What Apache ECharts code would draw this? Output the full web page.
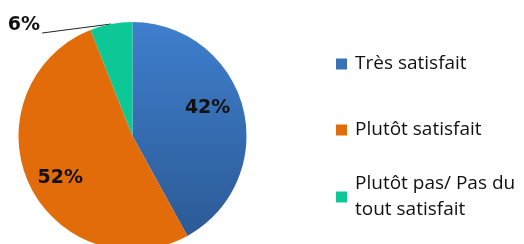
<!DOCTYPE html>
<html>
<head>
<meta charset="utf-8">
<script src="https://cdn.jsdelivr.net/npm/echarts@6/dist/echarts.min.js"></script>
<style>
html, body { margin: 0; padding: 0; background: #fff; }
#chart { width: 524px; height: 244px; }
</style>
</head>
<body>
<div id="chart"></div>
<script>
const categories = ['Très satisfait', 'Plutôt satisfait', 'Plutôt pas/ Pas du tout satisfait']
const values = [42, 52, 6]
const legendLabels = ['Très satisfait', 'Plutôt satisfait', 'Plutôt pas/ Pas du\ntout satisfait']

const chart = echarts.init(document.getElementById('chart'))

const colors = [
  new echarts.graphic.LinearGradient(0, 0, 0, 1, [
    { offset: 0, color: '#3f7fcd' },
    { offset: 1, color: '#2c5a96' }
  ]),
  '#e36c0a',
  '#0cc897'
]
const legendColors = ['#3a72b8', '#e36c0a', '#0cc897']
const legendTops = [51, 117, 158]

const pieData = categories.map((name, i) => ({
  name: name,
  value: values[i],
  itemStyle: { color: colors[i] },
  label: i === 2
    ? { position: 'outside' }
    : { position: 'inside' },
  labelLine: { show: i === 2 }
}))

const legends = categories.map((name, i) => ({
  orient: 'vertical',
  left: 336,
  top: legendTops[i],
  padding: 0,
  itemWidth: 11,
  itemHeight: 11,
  icon: 'rect',
  selectedMode: false,
  data: [{
    name: name,
    itemStyle: { color: legendColors[i] },
    textStyle: { padding: i === 2 ? [26, 0, 0, 3] : [0, 0, 0, 3] }
  }],
  formatter: () => legendLabels[i],
  textStyle: {
    fontFamily: 'Open Sans',
    fontSize: 19,
    lineHeight: 26,
    color: '#111'
  }
}))

const options = {
  animation: false,
  legend: legends,
  series: [
    {
      type: 'pie',
      center: [132.5, 136],
      radius: 114,
      startAngle: 90,
      clockwise: true,
      data: pieData,
      label: {
        formatter: '{c}%',
        fontFamily: 'DejaVu Sans',
        fontWeight: 'bold',
        fontSize: 19,
        color: '#111'
      },
      labelLine: {
        length: 4,
        length2: 10,
        lineStyle: { color: '#222', width: 1 }
      },
      labelLayout: function (params) {
        if (params.dataIndex === 0) return { dx: 17, dy: -13 }
        if (params.dataIndex === 1) return { dx: -18, dy: 17 }
        const pts = params.labelLinePoints
        const halfW = params.labelRect.width / 2
        return {
          x: 24,
          y: 25,
          align: 'center',
          verticalAlign: 'middle',
          labelLinePoints: pts ? [pts[0], [24 + halfW + 2, 33]] : undefined
        }
      }
    }
  ]
}
chart.setOption(options)
</script>
</body>
</html>
